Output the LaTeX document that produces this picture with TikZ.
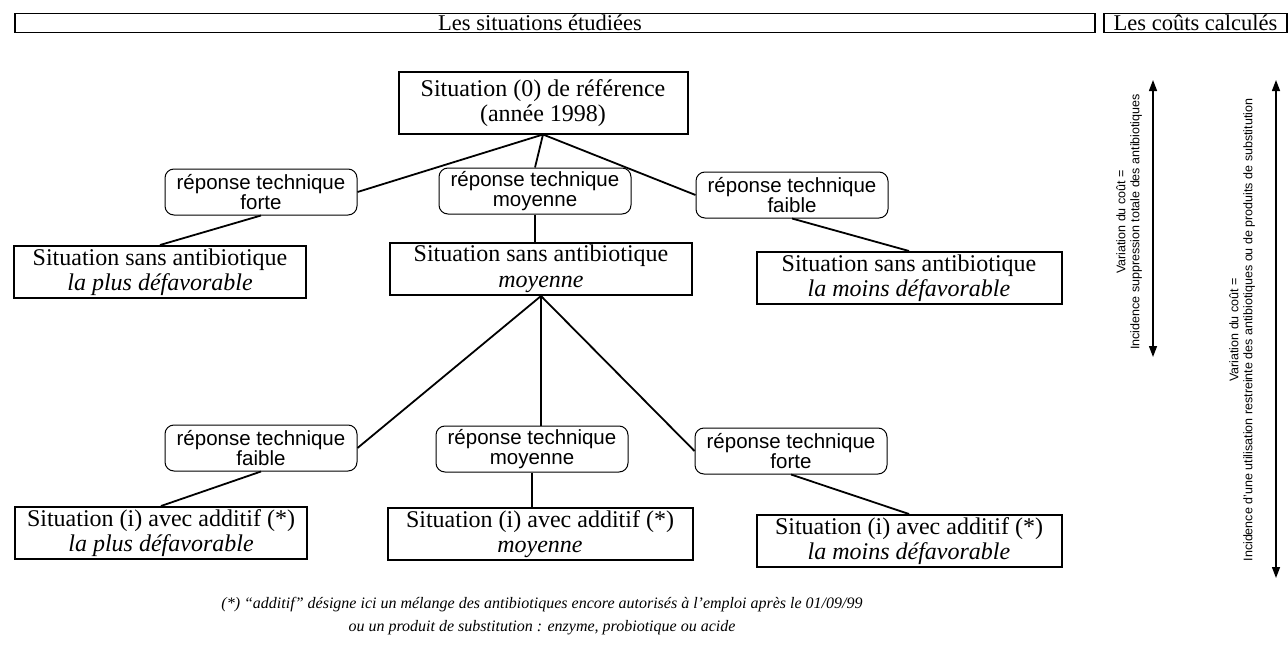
\documentclass[tikz,border=0pt]{standalone}
\usepackage{fontspec}
\setmainfont{Liberation Serif}
\setsansfont{Liberation Sans}
\usepackage{tikz}
\usetikzlibrary{arrows.meta, positioning, calc}

\begin{document}
\begin{tikzpicture}[
    x=1pt, y=-1pt,
    headbox/.style={draw, line width=1.3pt, rectangle, minimum height=19pt, inner sep=0pt, font=\fontsize{22.5}{24}\selectfont},
    sitbox/.style={draw, line width=2pt, rectangle, minimum width=292pt, minimum height=52pt, inner sep=2pt, align=center, font=\fontsize{24}{25.5}\selectfont},
    repbox/.style={draw, line width=1pt, rectangle, rounded corners=9pt, minimum width=192pt, minimum height=46pt, inner sep=1pt, align=center, font=\sffamily\fontsize{20.5}{20.5}\selectfont},
    link/.style={line width=1.8pt},
    costarrow/.style={{Triangle[length=11pt,width=8pt]}-{Triangle[length=11pt,width=8pt]}, line width=1.4pt},
    costlabel/.style={rotate=90, align=center, font=\sffamily\fontsize{12.5}{14}\selectfont}
]
\useasboundingbox (0,0) rectangle (1288,661);

% headers
\node[headbox, minimum width=1080pt] (situ) at (555,23) {\hspace*{-30pt}Les situations étudiées};
\node[headbox, minimum width=183pt] (couts) at (1195.5,23) {Les coûts calculés};

% reference situation
\node[sitbox, minimum width=289pt, minimum height=61pt] (ref) at (543,103) {Situation (0) de référence\\ (année 1998)};

% first level answers
\node[repbox] (r1f) at (261,192) {réponse technique\\ forte};
\node[repbox] (r1m) at (535,191) {réponse technique\\ moyenne};
\node[repbox] (r1b) at (792,195) {réponse technique\\ faible};

% situations without antibiotics
\node[sitbox] (s1) at (160,272) {Situation sans antibiotique\\ \textit{la plus défavorable}};
\node[sitbox, minimum width=302pt] (s2) at (541,269) {Situation sans antibiotique\\ \textit{moyenne}};
\node[sitbox, minimum width=305pt] (s3) at (909,278) {Situation sans antibiotique\\ \textit{la moins défavorable}};

\draw[link] (ref.south) -- (r1f.east);
\draw[link] (ref.south) -- (r1m.north);
\draw[link] (ref.south) -- (r1b.west);
\draw[link] (r1f.south) -- (s1.north);
\draw[link] (r1m.south) -- (r1m.south |- s2.north);
\draw[link] (r1b.south) -- (s3.north);

% second level answers
\node[repbox] (r2b) at (261,448) {réponse technique\\ faible};
\node[repbox] (r2m) at (532,449) {réponse technique\\ moyenne};
\node[repbox] (r2f) at (791,451) {réponse technique\\ forte};

% situations with additive
\node[sitbox] (a1) at (161,533) {Situation (i) avec additif (*)\\ \textit{la plus défavorable}};
\node[sitbox, minimum width=305pt] (a2) at (540,534) {Situation (i) avec additif (*)\\ \textit{moyenne}};
\node[sitbox, minimum width=305pt] (a3) at (909,541) {Situation (i) avec additif (*)\\ \textit{la moins défavorable}};

\draw[link] (s2.south) -- (r2b.east);
\draw[link] (s2.south) -- (s2.south |- r2m.north);
\draw[link] (s2.south) -- (r2f.west);
\draw[link] (r2b.south) -- (a1.north);
\draw[link] (r2m.south) -- (r2m.south |- a2.north);
\draw[link] (r2f.south) -- (a3.north);

% footnote
\node[align=center, font=\itshape\fontsize{16}{23}\selectfont] (note) at (542,616) {(*) ``additif'' désigne ici un mélange des antibiotiques encore autorisés à l'emploi après le 01/09/99\\ ou un produit de substitution : enzyme, probiotique ou acide};

% cost arrows
\coordinate (c1top) at (1153,80);
\coordinate (c1bot) at (1153,357);
\coordinate (c2top) at (1276,80);
\coordinate (c2bot) at (1276,578);
\draw[costarrow] (c1top) -- (c1bot);
\draw[costarrow] (c2top) -- (c2bot);
\node[costlabel] (cl1) at (1129,222) {Variation du coût =\\ Incidence suppression totale des antibiotiques};
\node[costlabel] (cl2) at (1242,330) {Variation du coût =\\ Incidence d'une utilisation restreinte des antibiotiques ou de produits de substitution};

\end{tikzpicture}
\end{document}
